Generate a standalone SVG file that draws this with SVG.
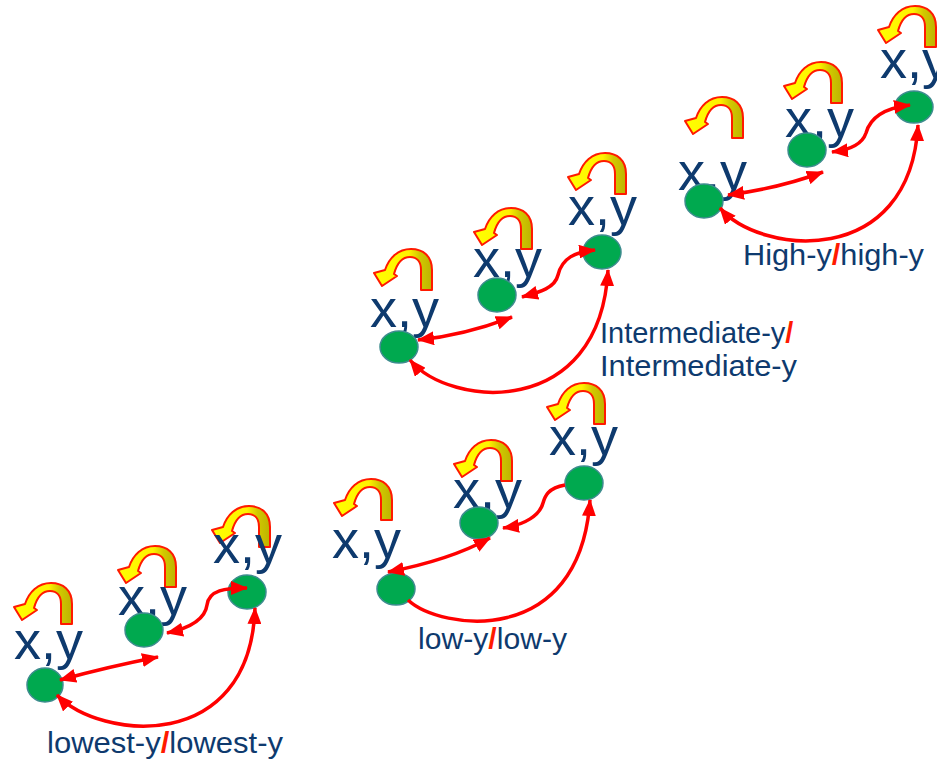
<svg xmlns="http://www.w3.org/2000/svg" width="937" height="761" viewBox="0 0 937 761">
<style>
.bg{fill:#ffffff}
.node{fill:#00A94F;stroke:#3D8C8E;stroke-width:1.5}
.xy{font-family:"Liberation Sans",Arial,sans-serif;font-size:54px;fill:#0E3A6E}
.lbl{font-family:"Liberation Sans",Arial,sans-serif;font-size:29px;fill:#0E3A6E}
.sl{fill:#FF1A00;font-weight:bold}
.edge{fill:none;stroke:#FF0000;stroke-width:3.5}
.loop{fill:url(#loopGrad);stroke:#FF1A00;stroke-width:2;stroke-linejoin:round}
</style>
<defs>
<linearGradient id="loopGrad" x1="0" y1="0" x2="1" y2="0">
<stop offset="0" stop-color="#FFFF00"/>
<stop offset="0.6" stop-color="#FFF200"/>
<stop offset="0.78" stop-color="#D2C800"/>
<stop offset="1" stop-color="#BDB300"/>
</linearGradient>
<marker id="ah" viewBox="0 0 17 14" refX="16" refY="7" markerWidth="17" markerHeight="14" markerUnits="userSpaceOnUse" orient="auto-start-reverse">
<path d="M0,0 L17,7 L0,14 Z" fill="#FF0000"/>
</marker>
<path id="selfloop" class="loop" d="M59 41 L59 21 C59 7 50 0 38 0 C25 0 16 9 12 21 L1 24 L9 37 L24 27 L21 25 C24 14 30 8 37 8 C44 8 48 13 48 21 L48 41 Z"/>
</defs>
<rect class="bg" x="0" y="0" width="937" height="761"/>

<g id="group-lowest">
<g id="A1"><use href="#selfloop" transform="translate(13,583)"/><text class="xy" x="14" y="659">x,y</text><ellipse class="node" cx="45" cy="685" rx="18" ry="17"/></g>
<g id="B1"><use href="#selfloop" transform="translate(117,546)"/><text class="xy" x="118" y="615">x,y</text><ellipse class="node" cx="144" cy="630" rx="19" ry="17"/></g>
<g id="C1"><use href="#selfloop" transform="translate(211,506)"/><text class="xy" x="213" y="563">x,y</text><ellipse class="node" cx="247" cy="592" rx="19" ry="17"/></g>
<g id="L1"><text class="lbl" x="47" y="753" textLength="236" lengthAdjust="spacingAndGlyphs">lowest-y<tspan class="sl">/</tspan>lowest-y</text></g>
</g>

<g id="group-low">
<g id="A2"><use href="#selfloop" transform="translate(333,479)"/><text class="xy" x="332" y="558">x,y</text><ellipse class="node" cx="396" cy="589" rx="19" ry="16"/></g>
<g id="B2"><use href="#selfloop" transform="translate(453,440)"/><text class="xy" x="453" y="508">x,y</text><ellipse class="node" cx="479" cy="523" rx="19" ry="16"/></g>
<g id="C2"><use href="#selfloop" transform="translate(546,383)"/><text class="xy" x="549" y="455">x,y</text><ellipse class="node" cx="584" cy="483" rx="19" ry="17"/></g>
<g id="L2"><text class="lbl" x="418" y="649" textLength="149" lengthAdjust="spacingAndGlyphs">low-y<tspan class="sl">/</tspan>low-y</text></g>
</g>

<g id="group-intermediate">
<g id="A3"><use href="#selfloop" transform="translate(373,249)"/><text class="xy" x="370" y="327">x,y</text><ellipse class="node" cx="399" cy="347" rx="19" ry="16"/></g>
<g id="B3"><use href="#selfloop" transform="translate(473,208)"/><text class="xy" x="473" y="277">x,y</text><ellipse class="node" cx="497" cy="295" rx="19" ry="17"/></g>
<g id="C3"><use href="#selfloop" transform="translate(567,153)"/><text class="xy" x="568" y="225">x,y</text><ellipse class="node" cx="602" cy="252" rx="19" ry="17"/></g>
<g id="L3"><text class="lbl" x="600" y="343">Intermediate-y<tspan class="sl">/</tspan></text><text class="lbl" x="600" y="376" textLength="197" lengthAdjust="spacingAndGlyphs">Intermediate-y</text></g>
</g>

<g id="group-high">
<g id="A4"><use href="#selfloop" transform="translate(684,97)"/><text class="xy" x="678" y="190">x,y</text><ellipse class="node" cx="704" cy="201" rx="19" ry="17"/></g>
<g id="B4"><use href="#selfloop" transform="translate(783,62)"/><text class="xy" x="785" y="137">x,y</text><ellipse class="node" cx="807" cy="150" rx="19" ry="17"/></g>
<g id="C4"><use href="#selfloop" transform="translate(877,6)"/><text class="xy" x="880" y="78">x,y</text><ellipse class="node" cx="914" cy="107" rx="19" ry="16"/></g>
<g id="L4"><text class="lbl" x="743" y="265" textLength="181" lengthAdjust="spacingAndGlyphs">High-y<tspan class="sl">/</tspan>high-y</text></g>
</g>

<g id="connectors">
<path class="edge" marker-start="url(#ah)" marker-end="url(#ah)" d="M60,680 Q107,667 158,657"/>
<path class="edge" marker-start="url(#ah)" marker-end="url(#ah)" d="M167,633 C190,628 205,620 207,605 C209,590 225,588 247,588"/>
<path class="edge" marker-start="url(#ah)" marker-end="url(#ah)" d="M57,695 C100,740 250,755 255,608"/>

<path class="edge" marker-start="url(#ah)" marker-end="url(#ah)" d="M388,572 Q450,560 490,538"/>
<path class="edge" marker-end="url(#ah)" d="M565,485 C548,488 545,496 543,503 C540,515 525,525 503,528"/>
<path class="edge" marker-end="url(#ah)" d="M408,600 C440,630 580,650 590,500"/>

<path class="edge" marker-start="url(#ah)" marker-end="url(#ah)" d="M418,340 Q465,335 512,317"/>
<path class="edge" marker-start="url(#ah)" marker-end="url(#ah)" d="M522,297 C540,292 555,288 558,275 C562,258 575,252 595,250"/>
<path class="edge" marker-start="url(#ah)" marker-end="url(#ah)" d="M410,360 C450,408 600,420 608,270"/>

<path class="edge" marker-start="url(#ah)" marker-end="url(#ah)" d="M728,195 Q780,188 823,172"/>
<path class="edge" marker-start="url(#ah)" marker-end="url(#ah)" d="M832,152 C850,150 862,145 866,133 C870,118 885,108 910,105"/>
<path class="edge" marker-start="url(#ah)" marker-end="url(#ah)" d="M720,208 C760,255 910,270 918,125"/>
</g>
</svg>
